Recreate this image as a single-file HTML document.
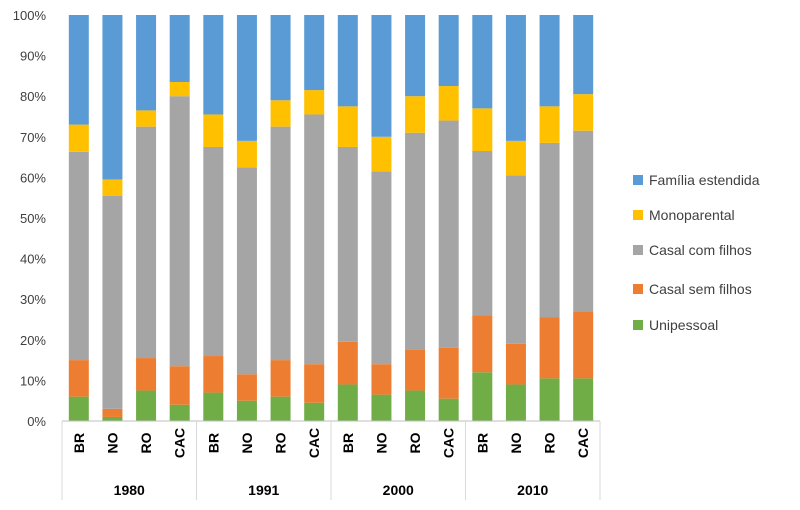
<!DOCTYPE html>
<html><head><meta charset="utf-8"><style>
body{margin:0;background:#fff;font-family:"Liberation Sans",sans-serif}
svg text{font-family:"Liberation Sans",sans-serif}
</style></head><body>
<svg id="c" width="800" height="505"></svg>
<script>
const regions=["BR","NO","RO","CAC"];
const years=["1980","1991","2000","2010"];
const seriesNames=["Unipessoal","Casal sem filhos","Casal com filhos","Monoparental","Família estendida"];
const colors=["#70ad47","#ed7d31","#a5a5a5","#ffc000","#5b9bd5"];
const unipessoal=[6,1,7.5,4, 7,5,6,4.5, 9,6.5,7.5,5.5, 12,9,10.5,10.5];
const casalSem=[9,2,8,9.5, 9,6.5,9,9.5, 10.5,7.5,10,12.5, 14,10,15,16.5];
const casalCom=[51.3,52.5,57,66.5, 51.5,51,57.5,61.5, 48,47.5,53.5,56, 40.5,41.5,43,44.5];
const monoparental=[6.7,4,4,3.5, 8,6.5,6.5,6, 10,8.5,9,8.5, 10.5,8.5,9,9];
const yTicks=[0,10,20,30,40,50,60,70,80,90,100];
const S=[unipessoal,casalSem,casalCom,monoparental];
const svg=document.getElementById('c');const NS="http://www.w3.org/2000/svg";
function el(t,a,p){const e=document.createElementNS(NS,t);for(const k in a)e.setAttribute(k,a[k]);(p||svg).appendChild(e);return e;}
const L=62,R=600,T=15,B=421;
const y=v=>B-(B-T)*v/100;
const n=years.length*regions.length,step=(R-L)/n;
const x=i=>L+step*(i+0.5);
yTicks.forEach(t=>{const tx=el('text',{x:46,y:y(t)+5,'text-anchor':'end','font-size':13,fill:'#404040'});tx.textContent=t+'%';

});
for(let i=0;i<n;i++){
 let vals=S.map(s=>s[i]);let sum=vals.reduce((a,b)=>a+b,0);vals.push(100-sum);
 let acc=0;
 vals.forEach((v,k)=>{const r=el('rect',{x:x(i)-10,y:y(acc+v),width:20,height:y(acc)-y(acc+v),fill:colors[k]});
 
 acc+=v;});
 const t=el('text',{transform:`translate(${x(i)+5},${443}) rotate(-90)`,'text-anchor':'middle','font-size':14,'font-weight':'bold',fill:'#000'});
 t.textContent=regions[i%4];
 
 
}
el('line',{x1:L,x2:R,y1:B,y2:B,stroke:'#bfbfbf'});
for(let g=0;g<=years.length;g++){const gx=L+g*step*4;el('line',{x1:gx,x2:gx,y1:B,y2:500,stroke:'#d9d9d9'});}
years.forEach((yr,g)=>{const t=el('text',{x:L+step*4*(g+0.5),y:495,'text-anchor':'middle','font-size':14,'font-weight':'bold'});t.textContent=yr;

});
const ly=[180,215,250,289,325];
for(let k=4;k>=0;k--){const yy=ly[4-k];
 const r=el('rect',{x:633,y:yy-5,width:10,height:10,fill:colors[k]});
 
 
 const t=el('text',{x:649,y:yy+5,'font-size':14,fill:'#404040'});t.textContent=seriesNames[k];
 
 }
</script>
</body></html>
